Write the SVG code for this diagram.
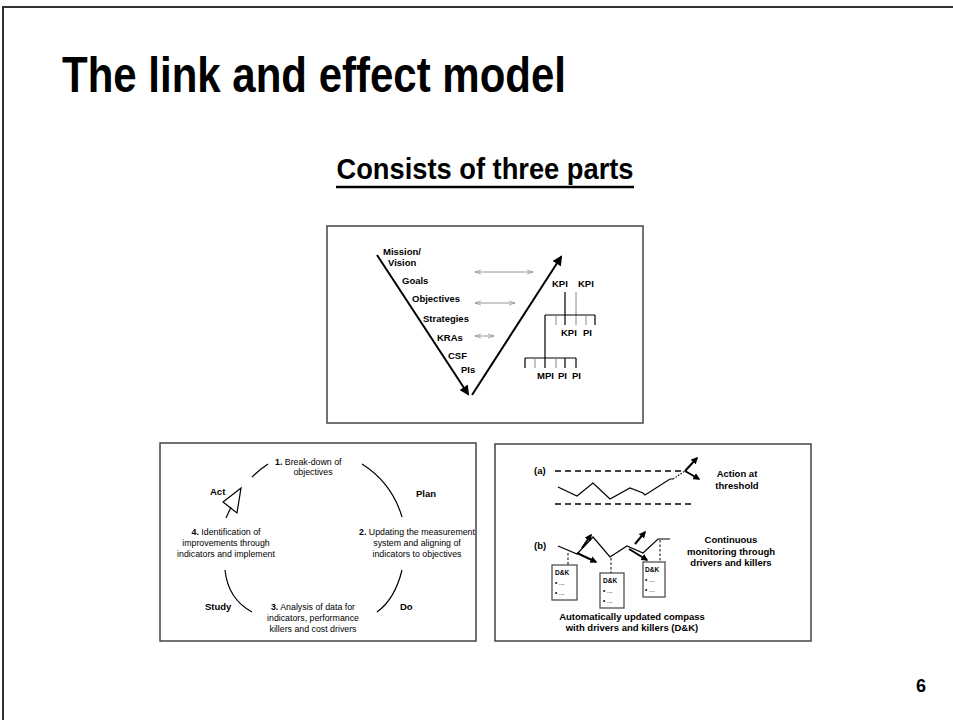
<svg xmlns="http://www.w3.org/2000/svg" width="953" height="720" viewBox="0 0 953 720">
<defs>
<style>
.t{font-family:"Liberation Sans",Arial,sans-serif;fill:#000}
.b{font-weight:bold}
.s9{font-size:9.5px}
.s8{font-size:8.8px}
.s6{font-size:6.5px}
.box{fill:#fff;stroke:#444;stroke-width:1.5}
.ln{fill:none;stroke:#000;stroke-width:1.2}
.gl{fill:none;stroke:#888;stroke-width:1}
.gr{fill:none;stroke:#888;stroke-width:0.9}
.bold{fill:none;stroke:#000;stroke-width:2}
.dash{fill:none;stroke:#000;stroke-width:1.4;stroke-dasharray:6 4}
.dk{fill:#fff;stroke:#444;stroke-width:1.2}
</style>
<marker id="ah" viewBox="0 0 10 10" refX="8" refY="5" markerWidth="5" markerHeight="5" orient="auto" markerUnits="strokeWidth">
<path d="M0,0 L10,5 L0,10 z" fill="#000"/>
</marker>
<marker id="ah2" viewBox="0 0 10 10" refX="8" refY="5" markerWidth="3.5" markerHeight="3.5" orient="auto" markerUnits="strokeWidth">
<path d="M0,0 L10,5 L0,10 z" fill="#000"/>
</marker>
<marker id="ch" viewBox="0 0 10 10" refX="10" refY="5" markerWidth="6" markerHeight="6" orient="auto-start-reverse" markerUnits="userSpaceOnUse">
<path d="M0,1.5 L10,5 L0,8.5" fill="none" stroke="#888" stroke-width="1.1"/>
</marker>
</defs>

<rect x="3" y="7" width="975" height="740" fill="none" stroke="#333" stroke-width="2"/>

<g id="title">
<text class="t b" x="62" y="92" font-size="50" textLength="504" lengthAdjust="spacingAndGlyphs">The link and effect model</text>
</g>
<g id="subtitle">
<text class="t b" x="485" y="179" font-size="29" text-anchor="middle" textLength="297" lengthAdjust="spacingAndGlyphs">Consists of three parts</text>
<line x1="336" y1="187" x2="634" y2="187" stroke="#000" stroke-width="2.5"/>
</g>

<g id="panel-v">
<rect class="box" x="327" y="226" width="316" height="197"/>
<text class="t b s9" x="383" y="255">Mission/</text>
<text class="t b s9" x="388" y="266">Vision</text>
<text class="t b s9" x="402" y="284">Goals</text>
<text class="t b s9" x="412" y="302">Objectives</text>
<text class="t b s9" x="423" y="322">Strategies</text>
<text class="t b s9" x="437" y="341">KRAs</text>
<text class="t b s9" x="448" y="359">CSF</text>
<text class="t b s9" x="461" y="373">PIs</text>
<text class="t b s9" x="552" y="287">KPI</text>
<text class="t b s9" x="578" y="287">KPI</text>
<text class="t b s9" x="561" y="336">KPI</text>
<text class="t b s9" x="583" y="336">PI</text>
<text class="t b s9" x="537" y="379">MPI</text>
<text class="t b s9" x="558" y="379">PI</text>
<text class="t b s9" x="572" y="379">PI</text>
<g id="kpi-tree">
<line class="ln" x1="565" y1="292" x2="565" y2="325"/>
<line class="gl" x1="576" y1="292" x2="576" y2="325"/>
<line class="ln" x1="545" y1="315" x2="595" y2="315"/>
<line class="gl" x1="556" y1="315" x2="556" y2="325"/>
<line class="gl" x1="586" y1="315" x2="586" y2="325"/>
<line class="ln" x1="595" y1="315" x2="595" y2="325"/>
<line class="ln" x1="545" y1="315" x2="545" y2="368"/>
<line class="ln" x1="525" y1="358" x2="576" y2="358"/>
<line class="ln" x1="525" y1="358" x2="525" y2="368"/>
<line class="gl" x1="535" y1="358" x2="535" y2="368"/>
<line class="gl" x1="556" y1="358" x2="556" y2="368"/>
<line class="ln" x1="565" y1="358" x2="565" y2="368"/>
<line class="ln" x1="576" y1="358" x2="576" y2="368"/>
</g>
</g>

<g id="panel-pdca">
<rect class="box" x="160" y="443" width="316" height="198"/>
<text class="t s8" x="275" y="465"><tspan class="b">1.</tspan> Break-down of</text>
<text class="t s8" x="313" y="475" text-anchor="middle">objectives</text>
<text class="t b s9" x="210" y="495">Act</text>
<text class="t b s9" x="416" y="497">Plan</text>
<text class="t s8" x="226" y="535" text-anchor="middle"><tspan class="b">4.</tspan> Identification of</text>
<text class="t s8" x="226" y="546" text-anchor="middle">improvements through</text>
<text class="t s8" x="226" y="557" text-anchor="middle">indicators and implement</text>
<text class="t s8" x="417" y="535" text-anchor="middle"><tspan class="b">2.</tspan> Updating the measurement</text>
<text class="t s8" x="417" y="546" text-anchor="middle">system and aligning of</text>
<text class="t s8" x="417" y="557" text-anchor="middle">indicators to objectives</text>
<text class="t b s9" x="205" y="610">Study</text>
<text class="t b s9" x="400" y="610">Do</text>
<text class="t s8" x="313" y="610" text-anchor="middle"><tspan class="b">3.</tspan> Analysis of data for</text>
<text class="t s8" x="313" y="621" text-anchor="middle">indicators, performance</text>
<text class="t s8" x="313" y="632" text-anchor="middle">killers and cost drivers</text>
<polygon points="241,488 223,502 237,513" fill="#fff" stroke="#000" stroke-width="1.2"/>
</g>

<g id="panel-monitor">
<rect class="box" x="495" y="444" width="316" height="197"/>
<text class="t b s9" x="534" y="474">(a)</text>
<text class="t b s9" x="737" y="477" text-anchor="middle">Action at</text>
<text class="t b s9" x="737" y="489" text-anchor="middle">threshold</text>
<text class="t b s9" x="534" y="549">(b)</text>
<text class="t b s9" x="731" y="543" text-anchor="middle">Continuous</text>
<text class="t b s9" x="731" y="555" text-anchor="middle">monitoring through</text>
<text class="t b s9" x="731" y="566" text-anchor="middle">drivers and killers</text>
<g id="dk1">
<rect class="dk" x="552" y="565" width="25" height="35"/>
<text class="t b s6" x="555" y="575">D&amp;K</text>
<text class="t s6" x="555" y="585">• ...</text>
<text class="t s6" x="555" y="595">• ...</text>
</g>
<g id="dk2">
<rect class="dk" x="600" y="573" width="24" height="35"/>
<text class="t b s6" x="603" y="583">D&amp;K</text>
<text class="t s6" x="603" y="593">• ...</text>
<text class="t s6" x="603" y="603">• ...</text>
</g>
<g id="dk3">
<rect class="dk" x="643" y="562" width="22" height="35"/>
<text class="t b s6" x="645" y="572">D&amp;K</text>
<text class="t s6" x="645" y="582">• ...</text>
<text class="t s6" x="645" y="592">• ...</text>
</g>
<text class="t b s9" x="632" y="620" text-anchor="middle">Automatically updated compass</text>
<text class="t b s9" x="632" y="631" text-anchor="middle">with drivers and killers (D&amp;K)</text>
</g>

<g id="page-number">
<text class="t b" x="916" y="692" font-size="18">6</text>
</g>

<g id="connectors">
<line class="bold" x1="377" y1="255" x2="468" y2="394" marker-end="url(#ah)"/>
<line class="bold" x1="472" y1="395" x2="561" y2="257" marker-end="url(#ah)"/>
<line class="gr" x1="475" y1="272" x2="533" y2="272" marker-start="url(#ch)" marker-end="url(#ch)"/>
<line class="gr" x1="475" y1="303" x2="515" y2="303" marker-start="url(#ch)" marker-end="url(#ch)"/>
<line class="gr" x1="475" y1="336" x2="494" y2="336" marker-start="url(#ch)" marker-end="url(#ch)"/>
<path class="ln" d="M252,477 Q259,470 268,464"/>
<path class="ln" d="M362,464 Q392,483 402,517"/>
<path class="ln" d="M231,507 L226,518"/>
<path class="ln" d="M225,570 Q228,599 252,612"/>
<path class="ln" d="M402,570 Q395,599 377,612"/>
<line class="dash" x1="555" y1="471" x2="685" y2="471"/>
<line class="dash" x1="555" y1="504" x2="695" y2="504"/>
<polyline class="ln" points="558,487 577,496 593,483 610,499 630,488 643,493 645,495 670,479 673,479"/>
<line x1="673" y1="479" x2="685" y2="471" stroke="#000" stroke-width="1.2" stroke-dasharray="1.5 1.5"/>
<line class="bold" x1="685" y1="471" x2="697" y2="458" marker-end="url(#ah2)"/>
<line class="bold" x1="685" y1="471" x2="699" y2="479" marker-end="url(#ah2)"/>
<polyline class="ln" points="558,546 577,554 593,537 610,557 627,546 643,553 658,539 670,539"/>
<line class="bold" x1="582" y1="548" x2="591" y2="535" marker-end="url(#ah2)"/>
<line class="bold" x1="577" y1="553" x2="596" y2="562" marker-end="url(#ah2)"/>
<line class="bold" x1="635" y1="544" x2="645" y2="532" marker-end="url(#ah2)"/>
<line class="bold" x1="629" y1="549" x2="647" y2="560" marker-end="url(#ah2)"/>
<line x1="568" y1="553" x2="568" y2="565" stroke="#000" stroke-width="1" stroke-dasharray="2.5 2"/>
<line x1="611" y1="558" x2="611" y2="573" stroke="#000" stroke-width="1" stroke-dasharray="2.5 2"/>
<line x1="660" y1="540" x2="660" y2="562" stroke="#000" stroke-width="1" stroke-dasharray="2.5 2"/>
</g>
</svg>
